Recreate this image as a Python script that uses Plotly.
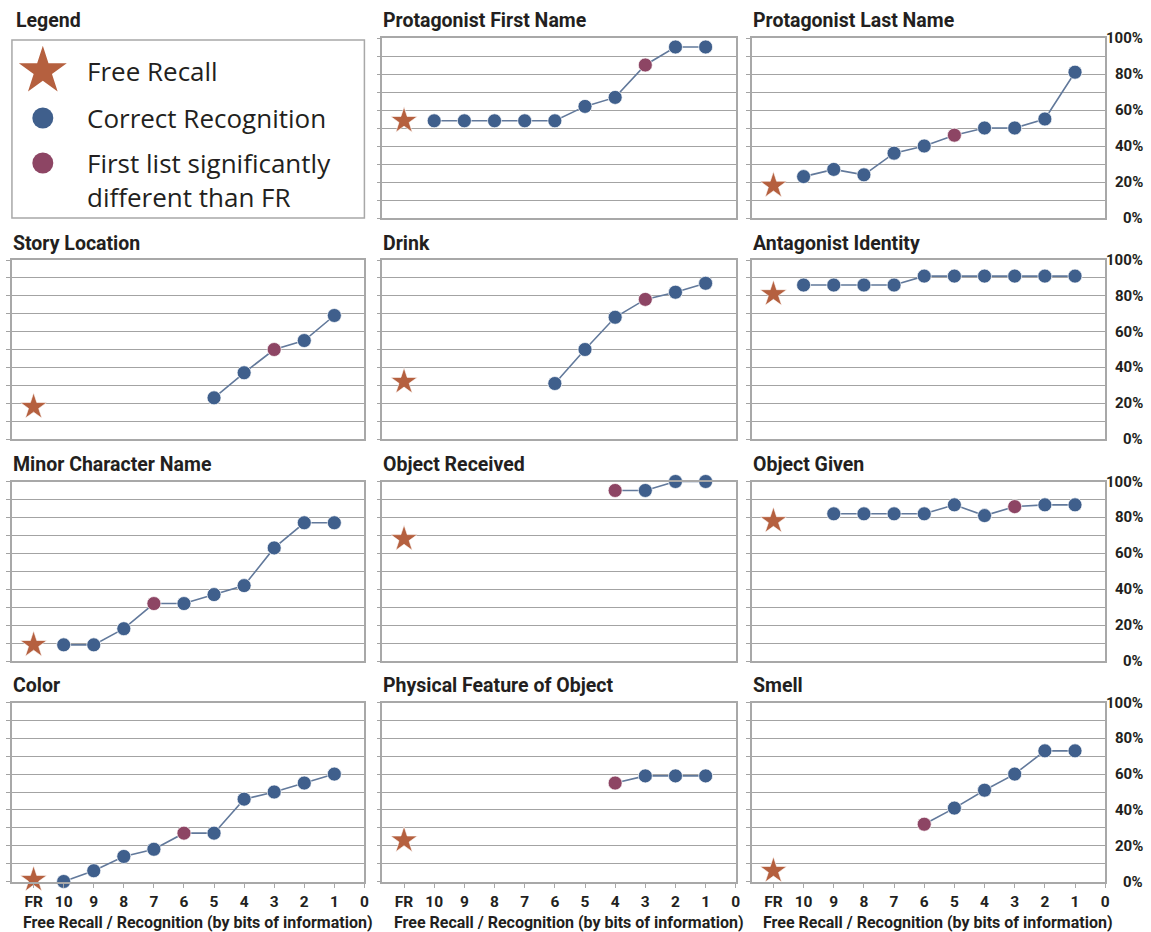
import plotly.graph_objects as go

# ---------------- data ----------------
x_labels = ["FR", "10", "9", "8", "7", "6", "5", "4", "3", "2", "1", "0"]
y_ticks = [0, 10, 20, 30, 40, 50, 60, 70, 80, 90, 100]
y_label_vals = [0, 20, 40, 60, 80, 100]

panel_titles = [
    "Protagonist First Name", "Protagonist Last Name",
    "Story Location", "Drink", "Antagonist Identity",
    "Minor Character Name", "Object Received", "Object Given",
    "Color", "Physical Feature of Object", "Smell",
]

# Free recall (%) per panel
fr_values = [54, 18, 18, 32, 81, 9, 68, 78, 1, 23, 6]

# Correct recognition (%) per panel, by bits of information
pfn_bits = ["10", "9", "8", "7", "6", "5", "4", "3", "2", "1"]
pfn_vals = [54, 54, 54, 54, 54, 62, 67, 85, 95, 95]

pln_bits = ["10", "9", "8", "7", "6", "5", "4", "3", "2", "1"]
pln_vals = [23, 27, 24, 36, 40, 46, 50, 50, 55, 81]

story_bits = ["5", "4", "3", "2", "1"]
story_vals = [23, 37, 50, 55, 69]

drink_bits = ["6", "5", "4", "3", "2", "1"]
drink_vals = [31, 50, 68, 78, 82, 87]

antag_bits = ["10", "9", "8", "7", "6", "5", "4", "3", "2", "1"]
antag_vals = [86, 86, 86, 86, 91, 91, 91, 91, 91, 91]

minor_bits = ["10", "9", "8", "7", "6", "5", "4", "3", "2", "1"]
minor_vals = [9, 9, 18, 32, 32, 37, 42, 63, 77, 77]

objrec_bits = ["4", "3", "2", "1"]
objrec_vals = [95, 95, 100, 100]

objgiv_bits = ["9", "8", "7", "6", "5", "4", "3", "2", "1"]
objgiv_vals = [82, 82, 82, 82, 87, 81, 86, 87, 87]

color_bits = ["10", "9", "8", "7", "6", "5", "4", "3", "2", "1"]
color_vals = [0, 6, 14, 18, 27, 27, 46, 50, 55, 60]

phys_bits = ["4", "3", "2", "1"]
phys_vals = [55, 59, 59, 59]

smell_bits = ["6", "5", "4", "3", "2", "1"]
smell_vals = [32, 41, 51, 60, 73, 73]

# First list significantly different than FR (None = none)
first_sig = ["3", "5", "3", "3", None, "7", "4", "3", "6", "4", "6"]

rec_bits = [pfn_bits, pln_bits, story_bits, drink_bits, antag_bits, minor_bits,
            objrec_bits, objgiv_bits, color_bits, phys_bits, smell_bits]
rec_vals = [pfn_vals, pln_vals, story_vals, drink_vals, antag_vals, minor_vals,
            objrec_vals, objgiv_vals, color_vals, phys_vals, smell_vals]

legend_labels = ["Free Recall", "Correct Recognition", "First list significantly", "different than FR"]

# ---------------- style ----------------
W, H = 1151, 932
BLUE = "#3f5f8c"
MAGENTA = "#8d4564"
STAR = "#b5603f"
LINE = "#62799b"
GRID = "#a3a3a3"
BOX = "#a8a8a8"
TXT = "#231f20"
COND = "Roboto, Liberation Sans, sans-serif"
REG = "Open Sans, Noto Sans, sans-serif"

col_x = [(12, 366), (384, 739), (755, 1110)]
row_y = [(38, 218), (260, 439), (481.5, 661), (702.5, 881.5)]

# grid slots (row, col) for the 11 data panels; slot (0,0) is the legend
slots = [(0, 1), (0, 2), (1, 0), (1, 1), (1, 2), (2, 0), (2, 1), (2, 2), (3, 0), (3, 1), (3, 2)]

fig = go.Figure()
annotations = []
layout = {}


def px(x):
    return x / W


def py(y):
    return 1 - y / H


for i, (r, c) in enumerate(slots):
    k = i + 1
    xa = "x" if k == 1 else f"x{k}"
    ya = "y" if k == 1 else f"y{k}"
    x0, x1 = col_x[c]
    y0, y1 = row_y[r]
    bottom = (r == 3)

    layout["xaxis" if k == 1 else f"xaxis{k}"] = dict(
        domain=[px(x0), px(x1)], anchor=ya, type="category",
        categoryorder="array", categoryarray=x_labels,
        tickmode="array", tickvals=x_labels, ticktext=x_labels,
        range=[-0.72, 11], showline=True, mirror=True, linecolor=BOX, linewidth=1.5,
        showgrid=False, zeroline=False, fixedrange=True,
        ticks="outside" if bottom else "", ticklen=5, tickcolor=BOX, tickwidth=1.3,
        showticklabels=bottom,
        tickfont=dict(family=COND, size=15.5, color=TXT, weight="bold"),
    )
    layout["yaxis" if k == 1 else f"yaxis{k}"] = dict(
        domain=[py(y1), py(y0)], anchor=xa, range=[0, 100],
        tickmode="array", tickvals=y_ticks, showticklabels=False,
        ticks="outside", ticklen=4, tickcolor=GRID, tickwidth=1.2,
        showgrid=True, gridcolor=GRID, gridwidth=1.2,
        showline=True, mirror=True, linecolor=BOX, linewidth=1.5, zeroline=False,
        fixedrange=True,
    )

    bits = rec_bits[i]
    vals = rec_vals[i]
    colors = [MAGENTA if b == first_sig[i] else BLUE for b in bits]
    fig.add_trace(go.Scatter(
        x=bits, y=vals, xaxis=xa, yaxis=ya, mode="lines+markers",
        line=dict(color=LINE, width=1.6),
        marker=dict(color=colors, size=14, line=dict(color="rgba(255,255,255,0.7)", width=1)),
        cliponaxis=False, showlegend=False, hoverinfo="x+y",
    ))
    fig.add_trace(go.Scatter(
        x=["FR"], y=[fr_values[i]], xaxis=xa, yaxis=ya, mode="markers",
        marker=dict(symbol="star", color=STAR, size=20, line=dict(color="rgba(255,255,255,0.6)", width=1)),
        cliponaxis=False, showlegend=False, hoverinfo="x+y",
    ))

    # panel title
    annotations.append(dict(
        text=panel_titles[i], xref="paper", yref="paper", x=px(x0 - 1), y=py(y0 - 17),
        xanchor="left", yanchor="middle", showarrow=False,
        font=dict(family=COND, size=19.5, color=TXT, weight="bold"),
    ))
    # right column percentage labels
    if c == 2:
        for v in y_label_vals:
            annotations.append(dict(
                text=f"{v}%", xref="paper", yref=ya, x=px(1150), y=v,
                xanchor="right", yanchor="middle", showarrow=False,
                font=dict(family=COND, size=15, color=TXT, weight="bold"),
            ))
    if bottom:
        annotations.append(dict(
            text="Free Recall / Recognition (by bits of information)",
            xref="paper", yref="paper", x=px((x0 + x1) / 2 + 10), y=py(922),
            xanchor="center", yanchor="middle", showarrow=False,
            font=dict(family=COND, size=16, color=TXT, weight="bold"),
        ))

# ---------------- legend panel ----------------
lx0, lx1 = 12, 366
ly0, ly1 = 40, 218
kL = len(slots) + 1
layout[f"xaxis{kL}"] = dict(domain=[px(lx0), px(lx1)], anchor=f"y{kL}", range=[0, lx1 - lx0],
                            visible=False, fixedrange=True)
layout[f"yaxis{kL}"] = dict(domain=[py(ly1), py(ly0)], anchor=f"x{kL}", range=[ly1 - ly0, 0],
                            visible=False, fixedrange=True)
fig.add_trace(go.Scatter(
    x=[31], y=[31], xaxis=f"x{kL}", yaxis=f"y{kL}", mode="markers",
    marker=dict(symbol="star", color=STAR, size=36), showlegend=False, hoverinfo="skip",
))
fig.add_trace(go.Scatter(
    x=[31, 31], y=[78, 123], xaxis=f"x{kL}", yaxis=f"y{kL}", mode="markers",
    marker=dict(color=[BLUE, MAGENTA], size=21), showlegend=False, hoverinfo="skip",
))
fig.add_shape(type="rect", xref="paper", yref="paper", x0=px(lx0), x1=px(lx1), y0=py(ly1), y1=py(ly0),
              line=dict(color=BOX, width=1.5))
annotations.append(dict(
    text="Legend", xref="paper", yref="paper", x=px(14), y=py(21),
    xanchor="left", yanchor="middle", showarrow=False,
    font=dict(family=COND, size=19.5, color=TXT, weight="bold"),
))
for txt, yc in zip(legend_labels, [71, 118, 163, 197]):
    annotations.append(dict(
        text=txt, xref="paper", yref="paper", x=px(85), y=py(yc),
        xanchor="left", yanchor="middle", showarrow=False,
        font=dict(family=REG, size=26, color=TXT),
    ))

fig.update_layout(
    width=W, height=H, margin=dict(l=0, r=0, t=0, b=0),
    paper_bgcolor="white", plot_bgcolor="white",
    annotations=annotations, showlegend=False,
    **layout,
)

fig.write_html("out.html", config={"displayModeBar": False},
               post_script="document.body.style.margin='0';")
